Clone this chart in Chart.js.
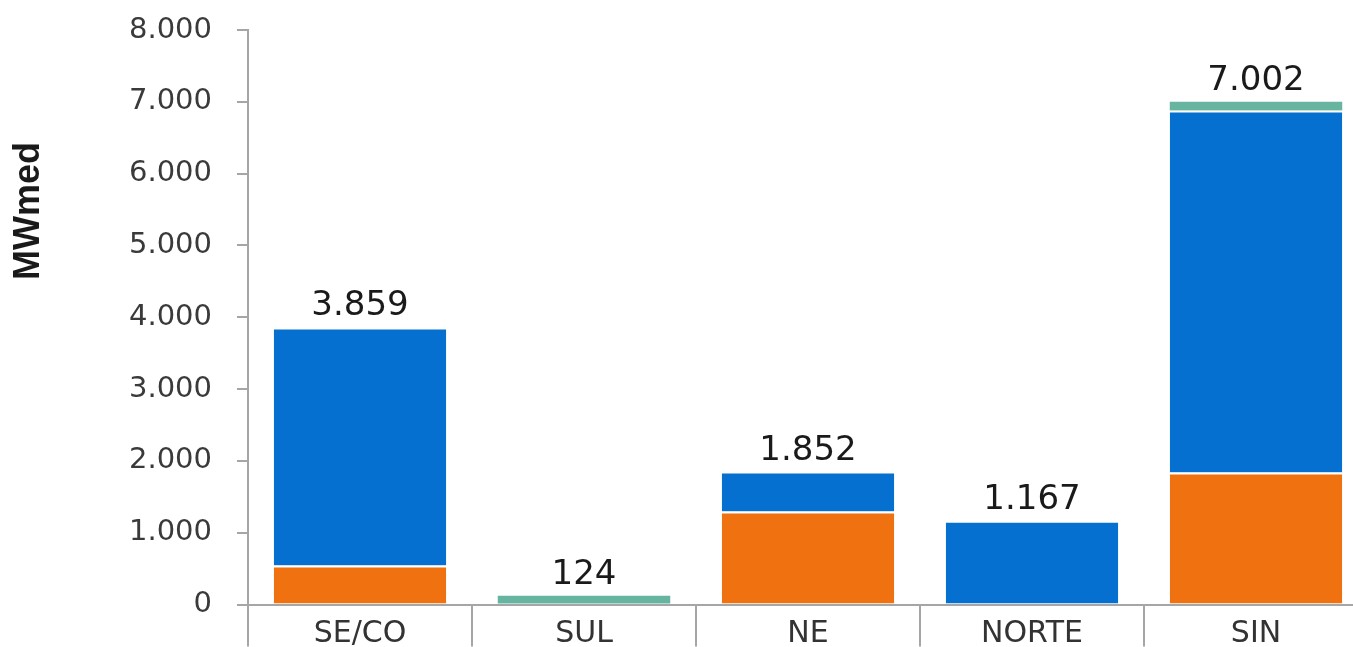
<!DOCTYPE html>
<html>
<head>
    <meta charset="UTF-8">
    <title>MWmed por subsistema</title>
    <style>
        html, body {
            margin: 0;
            padding: 0;
            background-color: white;
            overflow: hidden;
        }
        #chartBox {
            position: relative;
            width: 1400px;
            height: 647px;
        }
    </style>
    <script src="https://cdn.jsdelivr.net/npm/chart.js"></script>
</head>
<body>
<div id="chartBox">
    <canvas id="barChart"></canvas>
</div>
<script>
    // data
    const categories = ['SE/CO', 'SUL', 'NE', 'NORTE', 'SIN'];
    const orangeValues = [545, 0, 1295, 0, 1840];
    const blueValues = [3314, 0, 557, 1167, 5038];
    const tealValues = [0, 124, 0, 0, 124];
    const yTicks = [0, 1000, 2000, 3000, 4000, 5000, 6000, 7000, 8000];

    // 7002 -> "7.002"
    function fmt(v) {
        return v.toLocaleString('de-DE');
    }

    const totalsPlugin = {
        id: 'totals',
        afterDatasetsDraw(chart) {
            const ctx = chart.ctx;
            const xs = chart.scales.x;
            const ys = chart.scales.y;
            ctx.save();
            ctx.font = '34px "DejaVu Sans"';
            ctx.fillStyle = '#1a1a1a';
            ctx.textAlign = 'center';
            ctx.textBaseline = 'alphabetic';
            for (let i = 0; i < categories.length; i++) {
                let total = orangeValues[i] + blueValues[i] + tealValues[i];
                ctx.fillText(fmt(total), xs.getPixelForValue(i), ys.getPixelForValue(total) - 12);
            }
            ctx.restore();
        }
    };

    const yTitlePlugin = {
        id: 'yTitle',
        afterDraw(chart) {
            const ctx = chart.ctx;
            ctx.save();
            ctx.translate(29, 211);
            ctx.rotate(-Math.PI / 2);
            ctx.font = 'bold 36px "Liberation Sans"';
            ctx.fillStyle = '#1a1a1a';
            ctx.textAlign = 'center';
            ctx.textBaseline = 'middle';
            ctx.fillText('MWmed', 0, 0);
            ctx.restore();
        }
    };

    const data = {
        labels: categories,
        datasets: [{
            label: 'orange',
            data: orangeValues,
            backgroundColor: '#f07110',
            borderColor: '#ffffff',
            borderWidth: { top: 2, left: 0, right: 0, bottom: 0 },
            borderSkipped: false
        }, {
            label: 'blue',
            data: blueValues,
            backgroundColor: '#0570cf',
            borderColor: '#ffffff',
            borderWidth: { top: 2, left: 0, right: 0, bottom: 0 },
            borderSkipped: false
        }, {
            label: 'teal',
            data: tealValues,
            backgroundColor: '#67b5a1'
        }]
    };

    const config = {
        type: 'bar',
        data: data,
        plugins: [totalsPlugin, yTitlePlugin],
        options: {
            responsive: true,
            maintainAspectRatio: false,
            animation: false,
            datasets: {
                bar: {
                    categoryPercentage: 1.0,
                    barPercentage: 0.77
                }
            },
            layout: {
                padding: { top: 0, right: 32, bottom: 0, left: 0 }
            },
            plugins: {
                legend: { display: false },
                tooltip: { enabled: false }
            },
            scales: {
                x: {
                    stacked: true,
                    afterFit: function (scale) { scale.height = 42; },
                    grid: {
                        offset: true,
                        drawOnChartArea: false,
                        tickLength: 42,
                        color: '#a6a6a6',
                        lineWidth: 2
                    },
                    border: { color: '#a6a6a6', width: 2 },
                    ticks: {
                        color: '#333333',
                        padding: -30,
                        font: { family: 'DejaVu Sans', size: 30 }
                    }
                },
                y: {
                    stacked: true,
                    min: 0,
                    max: 8000,
                    afterFit: function (scale) {
                        scale.width = 248;
                        scale.paddingTop = 30;
                    },
                    afterBuildTicks: function (scale) {
                        scale.ticks = yTicks.map(v => ({ value: v }));
                    },
                    grid: {
                        drawOnChartArea: false,
                        tickLength: 11,
                        color: '#a6a6a6',
                        lineWidth: 2
                    },
                    border: { color: '#a6a6a6', width: 2 },
                    ticks: {
                        color: '#3a3a3a',
                        padding: 25,
                        font: { family: 'DejaVu Sans', size: 29 },
                        callback: function (v) { return fmt(v); }
                    }
                }
            }
        }
    };

    new Chart(document.getElementById('barChart'), config);
</script>
</body>
</html>
